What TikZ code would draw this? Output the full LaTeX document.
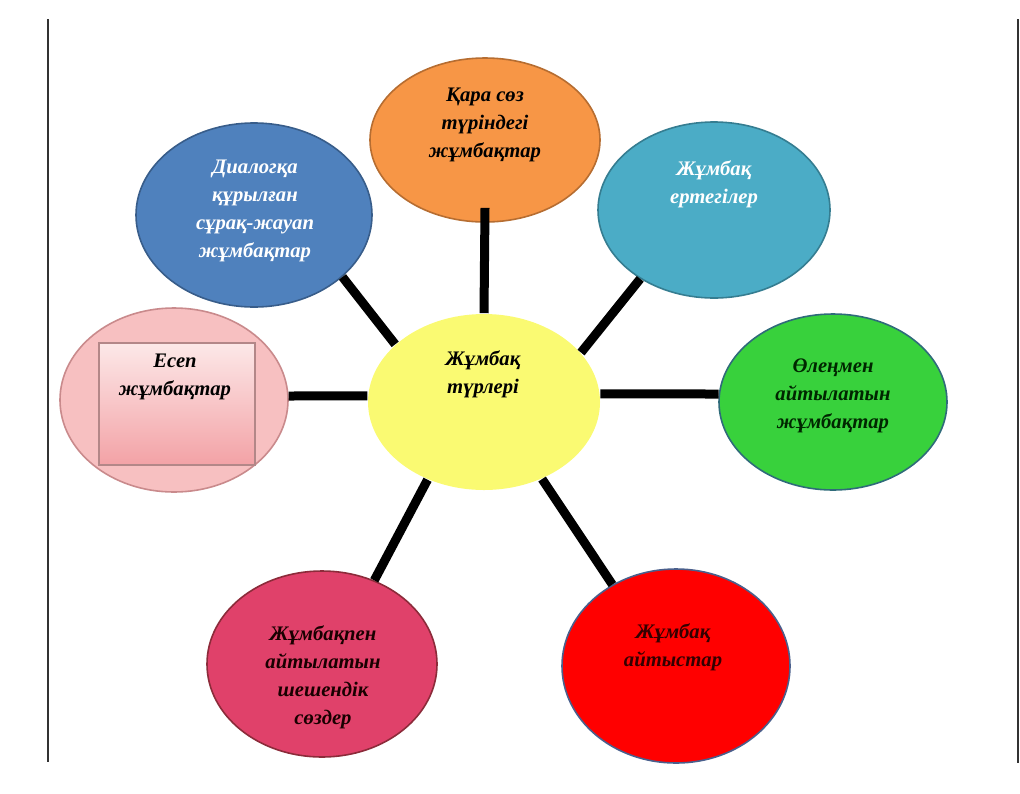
\documentclass[tikz,border=0pt]{standalone}
\usepackage{fontspec}
\setmainfont{Liberation Serif}
\usetikzlibrary{shapes.geometric,calc}
\definecolor{orangeF}{HTML}{F79646}\definecolor{orangeD}{HTML}{B66D31}
\definecolor{blueF}{HTML}{4F81BD}\definecolor{blueD}{HTML}{385D8A}
\definecolor{tealF}{HTML}{4BACC6}\definecolor{tealD}{HTML}{357D91}
\definecolor{greenF}{HTML}{38D13C}\definecolor{greenD}{HTML}{2F6B7A}
\definecolor{pinkF}{HTML}{F7C0C1}\definecolor{pinkD}{HTML}{C98A8C}
\definecolor{pinkTop}{HTML}{FCE8E8}\definecolor{pinkBot}{HTML}{F3A2A6}
\definecolor{yellowF}{HTML}{FAFA72}
\definecolor{crimF}{HTML}{E0416A}\definecolor{crimD}{HTML}{8C2B3A}
\definecolor{redF}{HTML}{FF0000}\definecolor{redD}{HTML}{4A5F8C}
\definecolor{frameC}{HTML}{333333}
\tikzset{
  oval/.style={ellipse, inner sep=0pt, line width=1.2pt},
  lbl/.style={align=center, font=\fontsize{15.5}{21}\selectfont\bfseries\itshape, inner sep=0pt},
  conn/.style={line width=6.75pt, black},
  frame/.style={line width=1.6pt, frameC}
}
\begin{document}
\begin{tikzpicture}[x=0.75pt,y=-0.75pt]
\useasboundingbox (0,0) rectangle (1020,793);
% frame lines
\coordinate (fl1) at (48,19); \coordinate (fl2) at (48,762);
\coordinate (fr1) at (1018,19); \coordinate (fr2) at (1018,763);
\draw[frame] (fl1) -- (fl2);
\draw[frame] (fr1) -- (fr2);
% ellipses
\node[oval, fill=orangeF, draw=orangeD, minimum width=172.5pt, minimum height=123pt] (orange) at (485,140) {};
\node[oval, fill=blueF, draw=blueD, minimum width=177pt, minimum height=138pt] (blue) at (254,215) {};
\node[oval, fill=tealF, draw=tealD, minimum width=174pt, minimum height=132pt] (teal) at (714,210) {};
\node[oval, fill=greenF, draw=greenD, minimum width=171pt, minimum height=132pt] (green) at (833,402) {};
\node[oval, fill=pinkF, draw=pinkD, minimum width=171pt, minimum height=138pt] (pink) at (174,400) {};
\node[oval, fill=yellowF, draw=none, minimum width=174pt, minimum height=132pt] (yellow) at (484,402) {};
\node[oval, fill=crimF, draw=crimD, minimum width=172.5pt, minimum height=139.5pt] (crim) at (322,664) {};
\node[oval, fill=redF, draw=redD, minimum width=171pt, minimum height=145.5pt] (red) at (676,666) {};
% inner box of pink
\node[rectangle, draw=pinkD!70!gray, line width=0.8pt, top color=pinkTop, bottom color=pinkBot, minimum width=117pt, minimum height=91.5pt, inner sep=0pt] (pinkbox) at (177,404) {};
% connectors
\coordinate (otop) at ($(orange.south)+(0,-15)$);
\draw[conn] (otop) -- (yellow.90);
\draw[conn] (blue.-35) -- (yellow.147);
\draw[conn] (teal.-137) -- (yellow.27);
\draw[conn] (green.176) -- (yellow.4);
\draw[conn] (pink.2) -- (yellow.177);
\draw[conn] (crim.58) -- (yellow.-126);
\draw[conn] (red.128) -- (yellow.-53);
% labels
\node[lbl] (torange) at (485,125) {Қара сөз\\түріндегі\\жұмбақтар};
\node[lbl, white] (tblue) at (255,211) {Диалогқа\\құрылған\\сұрақ-жауап\\жұмбақтар};
\node[lbl, white] (tteal) at (714,184) {Жұмбақ\\ертегілер};
\node[lbl, text=black!85!green] (tgreen) at (833,396) {Өлеңмен\\айтылатын\\жұмбақтар};
\node[lbl] (tpink) at (175,377) {Есеп\\жұмбақтар};
\node[lbl] (tyellow) at (483,374) {Жұмбақ\\түрлері};
\node[lbl, text=black!90!red] (tcrim) at (323,677) {Жұмбақпен\\айтылатын\\шешендік\\сөздер};
\node[lbl, text=black!80!red] (tred) at (673,647) {Жұмбақ\\айтыстар};
\end{tikzpicture}
\end{document}
